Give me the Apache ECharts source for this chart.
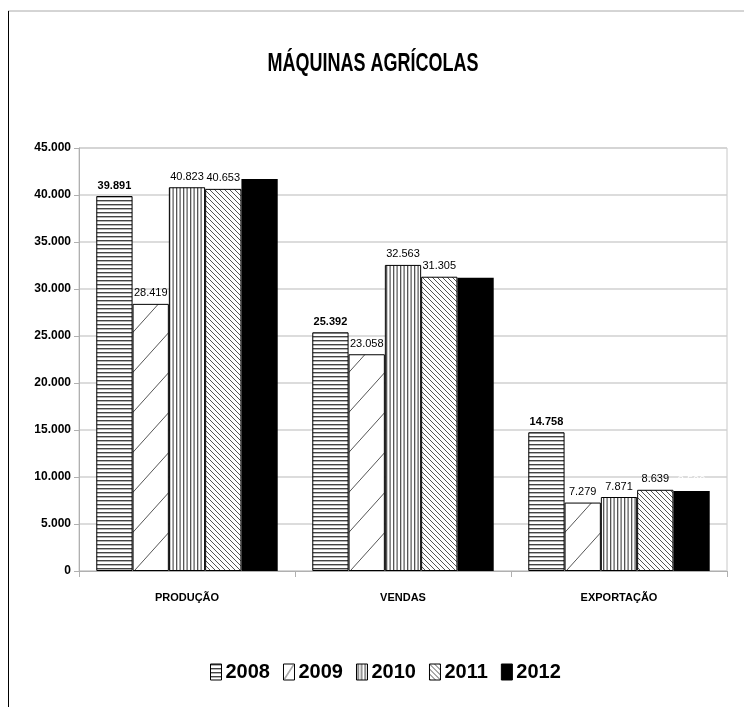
<!DOCTYPE html>
<html>
<head>
<meta charset="utf-8">
<script src="https://cdn.jsdelivr.net/npm/echarts@6/dist/echarts.min.js"></script>
<style>
html,body{margin:0;padding:0;background:#fff;}
#c{width:744px;height:707px;}
</style>
</head>
<body>
<div id="c"></div>
<script>
const categories = ['PRODUÇÃO', 'VENDAS', 'EXPORTAÇÃO'];
const years = ['2008', '2009', '2010', '2011', '2012'];
const s2008 = [39891, 25392, 14758];
const s2009 = [28419, 23058, 7279];
const s2010 = [40823, 32563, 7871];
const s2011 = [40653, 31305, 8639];
const s2012 = [41700, 31200, 8500];
const yTicks = [0, 5000, 10000, 15000, 20000, 25000, 30000, 35000, 40000, 45000];
const titleText = 'MÁQUINAS AGRÍCOLAS';

const FONT = "'Liberation Sans', Arial, sans-serif";

function mk(w, h, draw) {
  const c = document.createElement('canvas');
  c.width = w; c.height = h;
  const g = c.getContext('2d');
  g.fillStyle = '#fff'; g.fillRect(0, 0, w, h);
  draw(g, w, h);
  return c;
}
const patH = mk(8, 4, (g, w, h) => { g.fillStyle = '#444'; g.fillRect(0, 0, w, 1.4); });
const patSlash = mk(36, 40, (g, w, h) => {
  g.strokeStyle = '#555'; g.lineWidth = 1;
  g.beginPath(); g.moveTo(0, h); g.lineTo(w, 0); g.stroke();
  g.beginPath(); g.moveTo(-w, h); g.lineTo(0, 0); g.stroke();
  g.beginPath(); g.moveTo(w, 2*h); g.lineTo(2*w, h); g.stroke();
});
const patSlashSmall = mk(11, 16, (g, w, h) => {
  g.strokeStyle = '#555'; g.lineWidth = 1;
  g.beginPath(); g.moveTo(1, h - 1); g.lineTo(w - 1, 1); g.stroke();
});
const patV = mk(7, 8, (g, w, h) => { g.fillStyle = '#555'; g.fillRect(1, 0, 1.3, h); g.fillRect(4.5, 0, 1.2, h); });
const patBack = mk(5, 5, (g, w, h) => {
  g.strokeStyle = '#555'; g.lineWidth = 1;
  for (let k = -1; k <= 1; k++) {
    g.beginPath(); g.moveTo(k*w, 0); g.lineTo(k*w + w, h); g.stroke();
  }
});

const fills = [
  { image: patH, repeat: 'repeat' },
  { image: patSlash, repeat: 'repeat' },
  { image: patV, repeat: 'repeat' },
  { image: patBack, repeat: 'repeat' },
  '#000'
];
const legendFills = [fills[0], { image: patSlashSmall, repeat: 'no-repeat' }, fills[2], fills[3], '#000'];
const dataSets = [s2008, s2009, s2010, s2011, s2012];

const fmt = v => String(v).replace(/\B(?=(\d{3})+(?!\d))/g, '.');

const series = years.map((y, i) => ({
  name: y,
  type: 'bar',
  data: dataSets[i],
  barGap: '0%',
  barCategoryGap: '16%',
  itemStyle: { color: fills[i], borderColor: '#000', borderWidth: i === 4 ? 0 : 1 },
  label: {
    show: true,
    position: 'top',
    distance: 5,
    formatter: p => fmt(p.value),
    fontFamily: FONT,
    fontSize: 11,
    fontWeight: i === 0 ? 'bold' : 'normal',
    color: i === 4 ? '#fff' : '#000'
  }
}));

const chart = echarts.init(document.getElementById('c'));
chart.setOption({
  backgroundColor: '#fff',
  animation: false,
  legend: {
    top: 657,
    left: 205,
    itemWidth: 11,
    itemHeight: 16,
    itemGap: 13,
    icon: 'rect',
    textStyle: { fontFamily: FONT, fontSize: 20, fontWeight: 'bold', color: '#000', padding: [0, 0, 0, -1] },
    data: years.map((y, i) => ({ name: y, itemStyle: { color: legendFills[i], borderColor: '#000', borderWidth: 1 } }))
  },
  grid: { left: 79, right: 17, top: 148, bottom: 136, show: true, borderColor: '#c8c8c8', borderWidth: 1 },
  xAxis: {
    type: 'category',
    data: categories,
    axisLine: { lineStyle: { color: '#b0b0b0' } },
    axisTick: { show: true, length: 6, lineStyle: { color: '#b0b0b0' } },
    axisLabel: { fontFamily: FONT, fontSize: 11, fontWeight: 'bold', color: '#000', margin: 21 }
  },
  yAxis: {
    type: 'value',
    min: yTicks[0],
    max: yTicks[yTicks.length - 1],
    interval: yTicks[1] - yTicks[0],
    axisLine: { show: true, lineStyle: { color: '#b0b0b0' } },
    axisTick: { show: true, length: 5, lineStyle: { color: '#b0b0b0' } },
    splitLine: { lineStyle: { color: '#d0d0d0', width: 1.5 } },
    axisLabel: { fontFamily: FONT, fontSize: 12, fontWeight: 'bold', color: '#000', margin: 8, formatter: v => fmt(v) }
  },
  graphic: [
    { type: 'line', shape: { x1: 8, y1: 11, x2: 744, y2: 11 }, style: { stroke: '#aaa', lineWidth: 1 } },
    { type: 'line', shape: { x1: 8.5, y1: 11, x2: 8.5, y2: 707 }, style: { stroke: '#000', lineWidth: 1 } },
    {
      type: 'text', x: 373, y: 64, scaleX: 0.72,
      style: { text: titleText, textAlign: 'center', textVerticalAlign: 'middle', font: "bold 25px " + FONT, fill: '#000' }
    }
  ],
  series: series
});
</script>
</body>
</html>
